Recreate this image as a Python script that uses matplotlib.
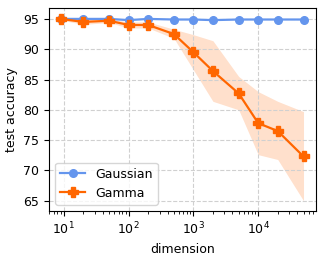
import matplotlib
matplotlib.use("Agg")
import matplotlib.pyplot as plt

dims = [9, 20, 50, 100, 200, 500, 1000, 2000, 5000, 10000, 20000, 50000]
gauss_mean = [95.0, 95.0, 95.0, 94.8, 95.0, 94.9, 94.9, 94.8, 94.9, 94.9, 94.9, 94.9]
gamma_mean = [95.0, 94.5, 94.7, 94.0, 94.0, 92.5, 89.5, 86.4, 82.7, 77.8, 76.5, 72.3]
gamma_upper = [95.2, 94.9, 95.0, 94.5, 94.5, 93.3, 92.4, 91.4, 85.5, 83.0, 81.4, 79.7]
gamma_lower = [94.8, 94.1, 94.4, 93.5, 93.5, 91.8, 86.6, 81.4, 80.0, 72.6, 71.8, 65.0]

blue = "#6495ED"
orange = "#FF6600"

plt.rcParams["font.size"] = 9

fig = plt.figure(figsize=(3.24, 2.58), dpi=100)
ax = fig.add_axes([0.151, 0.182, 0.824, 0.787])

ax.fill_between(dims, gamma_lower, gamma_upper, color=orange, alpha=0.2, lw=0)
ax.plot(dims, gauss_mean, color=blue, marker="o", markersize=5.5, lw=1.6, label="Gaussian")
ax.plot(dims, gamma_mean, color=orange, marker="P", markersize=6.5, lw=1.6, label="Gamma")

ax.set_xscale("log")
ax.set_xlim(5.9, 77600)
ax.set_ylim(63.3, 96.8)
ax.set_yticks([65, 70, 75, 80, 85, 90, 95])
ax.grid(True, linestyle="--", color="#d0d0d0", lw=0.8)
ax.set_xlabel("dimension")
ax.set_ylabel("test accuracy")
ax.legend(loc="lower left")

fig.savefig("out.png", dpi=100)
